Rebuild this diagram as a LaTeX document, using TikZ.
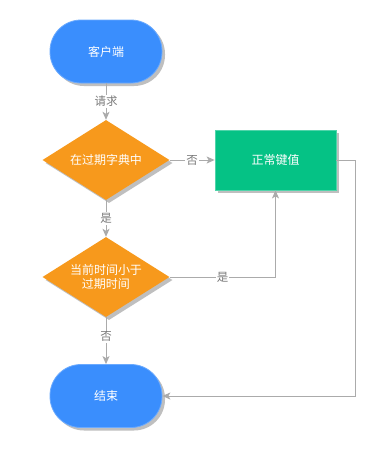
\documentclass[tikz,border=0pt]{standalone}
\usepackage{fontspec}
\setmainfont{Noto Sans CJK SC}
\usetikzlibrary{shapes.geometric,arrows.meta,shadows}
\definecolor{termblue}{HTML}{3A8EFD}
\definecolor{decorange}{HTML}{F7991C}
\definecolor{procgreen}{HTML}{05C285}
\definecolor{linegray}{HTML}{ABABAB}
\definecolor{lblgray}{HTML}{7A7A7A}
\tikzset{
  shd/.style={drop shadow={shadow xshift=3pt, shadow yshift=-3pt, fill=black!25, opacity=1}},
  term/.style={shd, rectangle, rounded corners=31pt, minimum width=112pt, minimum height=63pt,
    fill=termblue, draw=termblue!75!white, line width=0.8pt, text=white, font=\fontsize{12}{14}\selectfont},
  dec/.style={shd, diamond, aspect=1.5875, minimum width=127pt, minimum height=80pt, inner sep=0pt,
    fill=decorange, text=white, align=center, font=\fontsize{12}{14}\selectfont},
  proc/.style={shd, rectangle, minimum width=121pt, minimum height=60pt,
    fill=procgreen, draw=procgreen!70!white, line width=0.8pt, text=white, font=\fontsize{12}{14}\selectfont},
  conn/.style={draw=linegray, line width=1pt, -{Stealth[length=8pt,width=7pt,inset=2pt]}},
  lbl/.style={fill=white, text=lblgray, inner sep=1pt, font=\fontsize{11.5}{13}\selectfont}
}
\begin{document}
\begin{tikzpicture}[x=1pt,y=-1pt]
\useasboundingbox[fill=white] (0,0) rectangle (388,453);
\node[term] (start) at (106,51.5) {客户端};
\node[dec] (d1) at (106,160) {在过期字典中};
\node[proc] (ok) at (275.5,160) {正常键值};
\node[dec] (d2) at (106,277) {当前时间小于\\过期时间};
\node[term] (end) at (106,396) {结束};
\draw[conn] (start.south) -- node[lbl]{请求} (d1.north);
\draw[conn] (d1.east) -- node[lbl]{否} (ok.west);
\draw[conn] (d1.south) -- node[lbl]{是} (d2.north);
\draw[conn] (d2.east) -| node[lbl,pos=0.25]{是} (ok.south);
\draw[conn] (d2.south) -- node[lbl,pos=0.42]{否} (end.north);
\coordinate (turn) at (355,160);
\draw[conn] (ok.east) -- (turn) |- (end.east);
\end{tikzpicture}
\end{document}
